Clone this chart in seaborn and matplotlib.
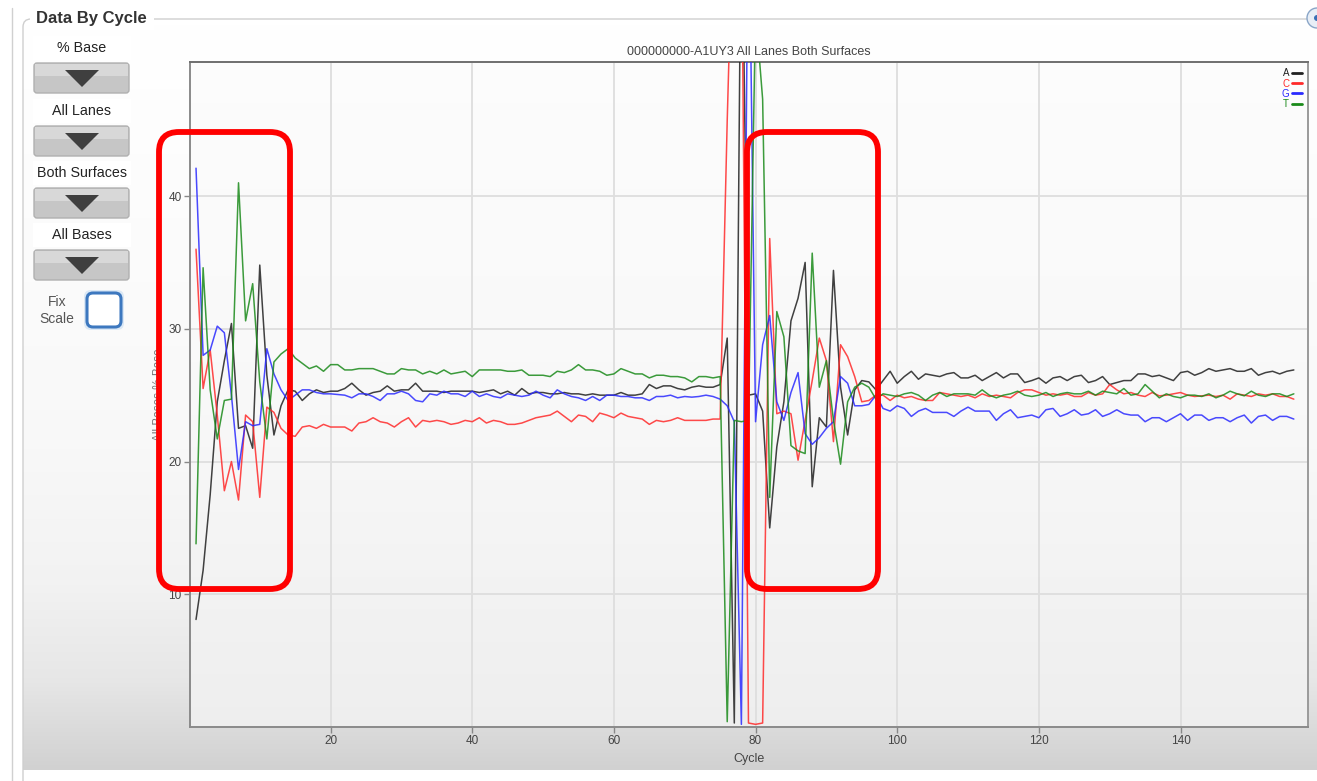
import numpy as np
import pandas as pd
import matplotlib
matplotlib.use("Agg")
import matplotlib.pyplot as plt
from matplotlib.patches import FancyBboxPatch, Polygon, Rectangle, Circle
from matplotlib.lines import Line2D
import seaborn as sns

# values, one per cycle (1..156)
cycles = list(range(1, 157))

base_a = [8.1, 11.8, 17.5, 24.5, 27.6, 30.4, 22.5, 22.7, 21.0, 34.8, 26.5, 22.0, 24.2, 25.4, 25.3,
          24.6, 25.1, 25.4, 25.2, 25.3, 25.3, 25.5, 25.9, 25.4, 25.0,
          25.2, 25.3, 25.7, 25.3, 25.4, 25.4, 25.9, 25.3, 25.3, 25.3,
          25.2, 25.3, 25.3, 25.3, 25.3, 25.2, 25.3, 25.4, 25.1, 25.3,
          25.0, 25.5, 25.1, 25.2, 25.2, 25.1, 25.1, 25.2, 25.1, 25.1,
          25.0, 25.1, 25.0, 25.0, 25.0, 25.2, 25.0, 25.0, 25.1, 25.8,
          25.5, 25.7, 25.7, 25.5, 25.4, 25.6, 25.7, 25.6, 25.6, 25.8,
          29.3, 0.3, 65.0, 25.0, 25.1, 23.8, 15.0,
          21.1, 24.5, 30.6, 32.3, 35.0, 18.1, 23.3, 22.6, 34.4, 25.6, 22.0, 25.4, 26.1, 26.0, 25.4,
          26.1, 26.8, 25.9, 26.4, 26.8, 26.2, 26.6, 26.5, 26.4, 26.6,
          26.7, 26.3, 26.3, 26.5, 26.1, 26.4, 26.7, 26.3, 26.6, 26.6,
          25.95, 26.1, 26.3, 25.9, 26.3, 26.4, 26.1, 26.4, 26.5, 25.95,
          26.1, 26.4, 25.8, 25.95, 26.1, 26.1, 26.6, 26.6, 26.4, 26.5,
          26.3, 26.1, 26.7, 26.8, 26.5, 26.7, 27.0, 26.8, 26.9, 27.0,
          26.8, 26.8, 27.0, 26.5, 26.7, 26.8, 26.6, 26.8, 26.9]

base_c = [36.0, 25.5, 28.4, 23.5, 17.8, 20.0, 17.1, 23.5, 23.0, 17.3, 24.1, 23.7, 22.5, 22.0, 21.9,
          22.6, 22.7, 22.5, 22.8, 22.6, 22.6, 22.6, 22.3, 22.9, 23.0,
          23.3, 23.0, 22.9, 22.6, 23.0, 23.3, 22.6, 23.1, 23.0, 23.1,
          23.0, 22.8, 22.9, 23.1, 23.0, 23.3, 22.9, 23.1, 23.0, 22.8,
          22.8, 22.9, 23.1, 23.3, 23.4, 23.5, 23.8, 23.4, 23.0, 23.5,
          23.4, 23.0, 23.65, 23.5, 23.3, 23.65, 23.4, 23.3, 23.2, 22.8,
          23.1, 23.0, 23.1, 23.3, 23.1, 23.1, 23.1, 23.1, 23.2, 23.2,
          45.7, 65.0, 62.0, 0.3, 0.2, 0.3, 36.8,
          23.6, 23.8, 23.6, 20.1, 23.1, 26.1, 29.3, 27.6, 21.5, 28.8, 27.9, 26.4, 24.5, 24.6, 25.0,
          25.0, 24.6, 25.0, 24.8, 24.9, 24.7, 24.6, 24.6, 25.2, 25.1,
          25.0, 24.9, 25.0, 24.8, 25.1, 24.9, 25.0, 24.9, 24.8, 25.2,
          25.4, 25.4, 25.2, 25.0, 25.1, 25.0, 25.1, 24.9, 24.9, 25.2,
          25.0, 25.1, 25.8, 25.4, 25.1, 25.2, 25.0, 24.9, 25.2, 24.95,
          25.0, 25.1, 25.2, 25.0, 24.9, 24.95, 25.0, 24.9, 25.0, 24.7,
          25.1, 25.0, 24.9, 25.1, 25.0, 25.1, 24.9, 24.9, 24.7]

base_g = [42.1, 28.0, 28.4, 30.2, 29.7, 25.0, 19.4, 23.0, 22.7, 22.8, 28.5, 26.6, 25.4, 24.6, 25.0,
          25.4, 25.4, 25.2, 25.1, 25.1, 25.05, 25.0, 24.8, 25.1, 25.1,
          24.9, 24.6, 25.1, 25.1, 25.3, 25.1, 24.6, 24.5, 25.1, 25.0,
          25.3, 25.1, 25.1, 24.9, 25.3, 24.9, 25.1, 24.9, 24.8, 25.1,
          25.0, 24.9, 25.0, 25.3, 25.0, 24.8, 25.4, 25.1, 24.9, 24.8,
          24.6, 24.9, 24.6, 25.0, 25.0, 24.9, 24.9, 24.8, 24.8, 24.6,
          24.9, 24.9, 25.0, 24.8, 24.9, 24.85, 24.9, 25.0, 24.9, 24.7,
          24.2, 23.0, 0.2, 65.0, 23.0, 28.8, 31.0,
          24.5, 23.1, 25.2, 26.7, 22.1, 21.3, 21.8, 22.5, 23.0, 26.4, 25.9, 24.2, 24.2, 24.3, 25.0,
          24.0, 23.8, 24.2, 24.0, 23.4, 23.8, 24.0, 23.7, 23.7, 23.7,
          23.4, 23.8, 24.1, 23.8, 23.8, 23.8, 23.1, 23.6, 23.9, 23.3,
          23.4, 23.5, 23.3, 23.9, 24.0, 23.4, 23.6, 23.9, 23.5, 23.6,
          23.9, 23.4, 23.6, 23.9, 23.6, 23.5, 23.5, 23.0, 23.3, 23.3,
          23.0, 23.3, 23.6, 23.1, 23.5, 23.5, 23.1, 23.3, 23.3, 23.0,
          23.3, 23.5, 22.9, 23.4, 23.5, 23.1, 23.4, 23.4, 23.2]

base_t = [13.8, 34.6, 25.4, 21.7, 24.6, 24.7, 41.0, 30.6, 33.4, 26.0, 21.7, 27.5, 28.1, 28.5, 27.8,
          27.4, 27.0, 27.2, 26.8, 27.3, 27.3, 26.9, 26.9, 27.0, 27.0,
          27.0, 26.8, 26.6, 26.6, 27.0, 26.9, 26.9, 26.6, 26.8, 26.6,
          26.9, 26.6, 26.7, 26.8, 26.4, 26.9, 26.9, 26.9, 26.9, 26.8,
          26.8, 26.9, 26.5, 26.5, 26.5, 26.4, 26.8, 26.7, 26.9, 27.3,
          26.9, 26.9, 26.8, 26.5, 26.6, 27.0, 26.8, 26.6, 26.6, 26.3,
          26.5, 26.5, 26.4, 26.4, 26.3, 26.0, 26.4, 26.4, 26.3, 26.4,
          0.4, 23.1, 23.0, 23.1, 54.0, 47.3, 17.3,
          31.3, 29.4, 21.2, 20.8, 20.6, 35.7, 25.6, 27.6, 23.1, 19.8, 24.5, 25.6, 25.9, 25.6, 24.7,
          25.1, 25.0, 24.9, 25.1, 25.2, 25.0, 24.6, 25.0, 25.2, 24.9,
          25.1, 25.1, 25.1, 25.0, 25.4, 25.0, 24.8, 25.0, 25.1, 25.3,
          25.0, 24.9, 25.0, 25.2, 24.9, 25.1, 25.2, 25.1, 25.1, 25.3,
          25.0, 25.3, 25.2, 25.1, 25.5, 25.0, 25.1, 25.8, 25.3, 24.8,
          25.1, 24.9, 24.8, 25.0, 25.0, 24.9, 25.1, 24.8, 25.0, 25.3,
          25.1, 24.95, 25.3, 25.0, 24.9, 25.1, 25.1, 24.9, 25.1]

bases = ["A", "C", "G", "T"]
colors = {"A": "#202020", "C": "#ff2a2a", "G": "#2a2aff", "T": "#1a8a1a"}
x_ticks = [20, 40, 60, 80, 100, 120, 140]
y_ticks = [10, 20, 30, 40]
title = "000000000-A1UY3 All Lanes Both Surfaces"

df = pd.DataFrame({
    "Cycle": cycles * 4,
    "Base": sum([[b] * len(cycles) for b in bases], []),
    "Value": base_a + base_c + base_g + base_t,
})

sns.set_theme(style="white")
plt.rcParams["font.family"] = ["Liberation Sans", "DejaVu Sans"]

W, H = 1317, 781
fig = plt.figure(figsize=(W / 100, H / 100), dpi=100)
fig.patch.set_facecolor("white")

# background / UI layer in pixel coordinates
bg = fig.add_axes([0, 0, 1, 1])
bg.set_xlim(0, W)
bg.set_ylim(H, 0)
bg.axis("off")
bg.set_zorder(0)

grad_y = np.array([0, 0.55, 0.75, 0.88, 1.0])
grad_v = np.array([1.0, 0.975, 0.95, 0.905, 0.82])
g = np.interp(np.linspace(0, 1, 300), grad_y, grad_v)
bg.imshow(np.dstack([g, g, g]).reshape(300, 1, 3), extent=[23, W, 770, 24],
          aspect="auto", interpolation="bilinear", zorder=0)

# group box frame: bottom and right run off the screenshot, so they get clipped
bg.plot([12, 12], [8, 781], color="#d0d0d0", lw=1, zorder=1)
bg.add_patch(FancyBboxPatch((23, 19), 1400, 900, boxstyle="round,pad=0,rounding_size=8",
                            fc="none", ec="#cfcfcf", lw=1, zorder=1))
bg.add_patch(Rectangle((30, 8), 124, 22, fc="white", ec="none", zorder=2))
bg.text(36, 19, "Data By Cycle", fontsize=12, fontweight="bold", color="#333333",
        va="center", ha="left", zorder=3)
bg.add_patch(Circle((1317, 18), 10, fc="#e8eef6", ec="#8aa6c8", lw=1, zorder=3))
bg.add_patch(Circle((1317, 18), 3, fc="#3a6fb5", ec="none", zorder=4))

# left controls
labels = ["% Base", "All Lanes", "Both Surfaces", "All Bases"]
label_y = [48, 111, 173, 235]
for lab, ly in zip(labels, label_y):
    bg.add_patch(Rectangle((33, ly - 12), 98, 24, fc="white", ec="none", zorder=2))
    bg.text(82, ly, lab, fontsize=10.3, color="#222222", ha="center", va="center", zorder=3)
    by = ly + 15
    bg.add_patch(FancyBboxPatch((34, by), 95, 30, boxstyle="round,pad=0,rounding_size=3",
                                fc="#c6c6c6", ec="#b0b0b0", lw=1, zorder=2))
    bg.add_patch(Rectangle((35, by + 1), 93, 12, fc="#d8d8d8", ec="none", zorder=2))
    bg.add_patch(Polygon([[65, by + 7], [99, by + 7], [82, by + 24]], closed=True,
                         fc="#3f3f3f", ec="none", zorder=3))

bg.text(57, 302, "Fix", fontsize=10, color="#555555", ha="center", va="center", zorder=3)
bg.text(57, 319, "Scale", fontsize=10, color="#555555", ha="center", va="center", zorder=3)
bg.add_patch(FancyBboxPatch((84, 290), 40, 40, boxstyle="round,pad=0,rounding_size=7",
                            fc="#dbe8f5", ec="none", zorder=2))
bg.add_patch(FancyBboxPatch((87, 293), 34, 34, boxstyle="round,pad=0,rounding_size=6",
                            fc="white", ec="#3d78bf", lw=2.2, zorder=3))

# chart
ax = fig.add_axes([190 / W, 1 - 727 / H, 1118 / W, 665 / H])
ax.set_zorder(1)
ax.patch.set_visible(False)
pg = np.interp(np.linspace(0, 1, 200), [0, 0.5, 1], [0.99, 0.975, 0.935])
ax.imshow(np.dstack([pg, pg, pg]).reshape(200, 1, 3), extent=[0, 1, 0, 1], transform=ax.transAxes,
          aspect="auto", interpolation="bilinear", zorder=0)

sns.lineplot(data=df, x="Cycle", y="Value", hue="Base", palette=colors, estimator=None,
             sort=False, lw=1.1, alpha=0.85, legend=False, ax=ax, zorder=3)

ax.set_xlim(0.15, 158)
ax.set_ylim(0, 50.1)
ax.set_xticks(x_ticks)
ax.set_yticks(y_ticks)
ax.grid(True, color="#dedede", lw=1.3, zorder=1)
ax.set_axisbelow(True)
for side, sp in ax.spines.items():
    sp.set_visible(True)
    sp.set_color("#8a8a8a" if side in ("left", "bottom") else "#6f6f6f")
    sp.set_linewidth(1.4)
ax.spines["right"].set_color("#9a9a9a")
ax.tick_params(direction="out", length=4, width=1, color="#888888", labelsize=8.5,
               labelcolor="#444444", pad=2)
ax.tick_params(axis="x", bottom=True)
ax.tick_params(axis="y", left=True)
ax.set_title(title, fontsize=9, color="#444444", pad=5)
ax.set_xlabel("Cycle", fontsize=9, color="#444444", labelpad=4)
ax.set_ylabel("All Bases % Base", fontsize=8.5, color="#777777")
ax.yaxis.set_label_coords(-0.022, 0.5)

handles = [Line2D([], [], color=colors[b], lw=2) for b in bases]
leg = ax.legend(handles, bases, loc="upper right", markerfirst=False, labelcolor="linecolor",
                frameon=False, fontsize=7, handlelength=1.0, handletextpad=0.3,
                labelspacing=0.02, borderaxespad=0.35, borderpad=0.3)

# red highlight boxes drawn over everything
ov = fig.add_axes([0, 0, 1, 1])
ov.set_xlim(0, W)
ov.set_ylim(H, 0)
ov.axis("off")
ov.set_zorder(5)
ov.patch.set_visible(False)
for x0 in (159, 747):
    ov.add_patch(FancyBboxPatch((x0, 132), 131, 457, boxstyle="round,pad=0,rounding_size=20",
                                fc="none", ec="#ff0000", lw=4.2))

fig.savefig("out.png", dpi=100)
